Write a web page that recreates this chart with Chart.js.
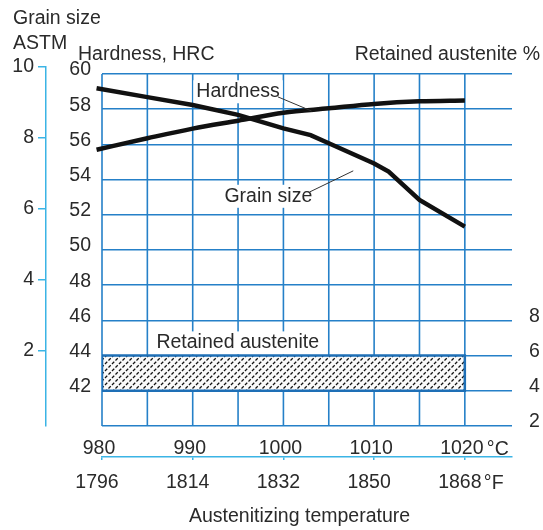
<!DOCTYPE html>
<html>
<head>
<meta charset="utf-8">
<script src="https://cdn.jsdelivr.net/npm/chart.js@4.4.1/dist/chart.umd.min.js"></script>
<style>
  html, body { margin: 0; padding: 0; background: #fff; }
  #wrap { width: 543px; height: 530px; position: relative; }
</style>
</head>
<body>
<div id="wrap"><canvas id="chart"></canvas></div>
<script>
// austenitizing temperature in °C
const hardnessTemp = [979.4, 985, 990, 995, 1000, 1005, 1010, 1015, 1020];
const hardnessHRC = [55.7, 56.35, 56.9, 57.35, 57.8, 58.05, 58.3, 58.45, 58.5];

const grainTemp = [979.4, 985, 990, 995, 1000, 1003, 1005, 1010, 1011.6, 1015, 1020];
const grainASTM = [9.4, 9.15, 8.93, 8.65, 8.27, 8.08, 7.85, 7.28, 7.05, 6.25, 5.5];

// retained austenite band, %
const austeniteTemp = [980, 1020];
const austeniteRange = [4, 6];

const tempTicksC = [980, 990, 1000, 1010, 1020];
const gridTempsC = [980, 985, 990, 995, 1000, 1005, 1010, 1015, 1020];
const hardnessTicks = [40, 42, 44, 46, 48, 50, 52, 54, 56, 58, 60];
const grainTicks = [2, 4, 6, 8, 10];
const austeniteTicks = [2, 4, 6, 8];

const BLUE = '#2580c8';
const LIGHT = '#3bb4e5';
const BOX = '#1e6fb6';
const INK = '#2a2a2a';
const FAMILY = '"Liberation Sans", Arial, sans-serif';
const SIZE = 19.5;
const FONT = SIZE + 'px ' + FAMILY;

Chart.defaults.font.family = FAMILY;
Chart.defaults.font.size = SIZE;
Chart.defaults.color = INK;

// text inside the plot, placed in data units (°C, HRC)
const plotLabels = [
  { text: 'Hardness', t: 990.4, h: 58.68, lead: [[999.4, 58.7], [1003.1, 57.9]] },
  { text: 'Grain size', t: 993.5, h: 52.74, lead: [[1002.9, 53.3], [1007.7, 54.5]] },
  { text: 'Retained austenite', t: 986.0, h: 44.41, lead: null }
];

function hatch() {
  const s = 7;
  const c = document.createElement('canvas');
  c.width = s; c.height = s;
  const g = c.getContext('2d');
  g.fillStyle = '#fafafa';
  g.fillRect(0, 0, s, s);
  g.strokeStyle = '#111';
  g.lineWidth = 1.25;
  const d = s * Math.SQRT2 / 2;
  g.setLineDash([d * 0.64, d * 0.36]);
  [-s, 0, s].forEach(o => {
    g.beginPath();
    g.moveTo(o - s, 2 * s);
    g.lineTo(o + 2 * s, -s);
    g.stroke();
  });
  return g.createPattern(c, 'repeat');
}

const decor = {
  id: 'decor',
  beforeDatasetsDraw(chart) {
    const { ctx, scales: { x, hrc } } = chart;
    ctx.save();
    const top = hrc.getPixelForValue(60), bottom = hrc.getPixelForValue(40);
    ctx.strokeStyle = BLUE;
    ctx.lineWidth = 1.6;
    gridTempsC.forEach(t => {
      const px = x.getPixelForValue(t);
      ctx.beginPath();
      ctx.moveTo(px, top);
      ctx.lineTo(px, bottom);
      ctx.stroke();
    });
    ctx.font = FONT;
    ctx.fillStyle = '#fff';
    plotLabels.forEach(l => {
      const lx = x.getPixelForValue(l.t), ly = hrc.getPixelForValue(l.h);
      const w = ctx.measureText(l.text).width;
      ctx.fillRect(lx - 3, ly - 17, w + 6, 23);
    });
    ctx.restore();
  },
  afterDatasetsDraw(chart) {
    const { ctx, scales: { x, hrc } } = chart;
    ctx.save();
    ctx.font = FONT;
    ctx.fillStyle = INK;
    ctx.textBaseline = 'alphabetic';
    ctx.textAlign = 'left';
    ctx.strokeStyle = '#333';
    ctx.lineWidth = 1;
    plotLabels.forEach(l => {
      ctx.fillText(l.text, x.getPixelForValue(l.t), hrc.getPixelForValue(l.h));
      if (l.lead) {
        ctx.beginPath();
        ctx.moveTo(x.getPixelForValue(l.lead[0][0]), hrc.getPixelForValue(l.lead[0][1]));
        ctx.lineTo(x.getPixelForValue(l.lead[1][0]), hrc.getPixelForValue(l.lead[1][1]));
        ctx.stroke();
      }
    });
    ctx.restore();
  },
  afterDraw(chart) {
    const { ctx, scales: { x } } = chart;
    ctx.save();
    ctx.font = FONT;
    ctx.fillStyle = INK;
    ctx.textBaseline = 'alphabetic';
    ctx.textAlign = 'left';
    ctx.fillText('Grain size', 13, 24);
    ctx.fillText('ASTM', 13, 48.5);
    ctx.fillText('Hardness, HRC', 78, 60);
    ctx.textAlign = 'right';
    ctx.fillText('Retained austenite %', 540, 60);
    ctx.textAlign = 'left';
    const end = x.getPixelForValue(1020);
    ctx.fillText('°C', end + 22, 455);
    ctx.fillText('°F', end + 19, 489);
    ctx.fillText('Austenitizing temperature', 189, 522);
    ctx.restore();
  }
};

const setTicks = list => scale => { scale.ticks = list.map(v => ({ value: v })); };

new Chart(document.getElementById('chart'), {
  type: 'line',
  data: {
    datasets: [
      {
        label: 'Hardness',
        data: hardnessTemp.map((t, i) => ({ x: t, y: hardnessHRC[i] })),
        xAxisID: 'x', yAxisID: 'hrc',
        borderColor: '#111', borderWidth: 4.5, pointRadius: 0,
        cubicInterpolationMode: 'monotone', clip: false, fill: false
      },
      {
        label: 'Grain size',
        data: grainTemp.map((t, i) => ({ x: t, y: grainASTM[i] })),
        xAxisID: 'x', yAxisID: 'astm',
        borderColor: '#111', borderWidth: 4.5, pointRadius: 0,
        tension: 0, clip: false, fill: false
      },
      {
        label: 'Retained austenite',
        data: [
          { x: austeniteTemp[0], y: austeniteRange[0] },
          { x: austeniteTemp[0], y: austeniteRange[1] },
          { x: austeniteTemp[1], y: austeniteRange[1] },
          { x: austeniteTemp[1], y: austeniteRange[0] },
          { x: austeniteTemp[0], y: austeniteRange[0] }
        ],
        xAxisID: 'x', yAxisID: 'ra',
        borderColor: BOX, borderWidth: 2.5, borderJoinStyle: 'miter',
        backgroundColor: hatch(), fill: 'shape', pointRadius: 0, tension: 0
      }
    ]
  },
  options: {
    responsive: true,
    maintainAspectRatio: false,
    animation: false,
    events: [],
    layout: { padding: { top: 67, left: 0, right: 0, bottom: 0 } },
    plugins: { legend: { display: false }, tooltip: { enabled: false } },
    scales: {
      x: {
        type: 'linear', axis: 'x', position: 'bottom', weight: 0,
        min: 980, max: 1025.2,
        grid: { display: false, drawTicks: false }, border: { display: false },
        afterBuildTicks: setTicks(tempTicksC),
        afterFit: s => { s.height = 31; },
        ticks: { padding: 11, labelOffset: -3, maxRotation: 0, autoSkip: false, callback: v => String(v) }
      },
      xF: {
        type: 'linear', axis: 'x', position: 'bottom', weight: 1,
        min: 980, max: 1025.2,
        grid: { drawOnChartArea: false, drawTicks: true, tickLength: 3, color: LIGHT, lineWidth: 1.5 },
        border: { display: true, color: LIGHT, width: 1.5 },
        afterBuildTicks: setTicks(tempTicksC),
        afterFit: s => { s.height = 73; },
        ticks: { padding: 11, labelOffset: -5, maxRotation: 0, autoSkip: false, callback: v => String(Math.round(v * 9 / 5 + 32)) }
      },
      hrc: {
        type: 'linear', axis: 'y', position: 'left', weight: 0,
        min: 40, max: 60.4,
        grid: { color: BLUE, lineWidth: 1.6, drawTicks: false },
        border: { display: false },
        afterBuildTicks: setTicks(hardnessTicks),
        afterFit: s => { s.width = 56; },
        ticks: { padding: 11, labelOffset: -4, autoSkip: false, callback: v => (v === 40 ? '' : String(v)) }
      },
      astm: {
        type: 'linear', axis: 'y', position: 'left', weight: 1,
        min: -0.124, max: 10,
        grid: { drawOnChartArea: false, drawTicks: true, tickLength: 8, color: LIGHT, lineWidth: 1.5 },
        border: { display: true, color: LIGHT, width: 1.5 },
        afterBuildTicks: setTicks(grainTicks),
        afterFit: s => { s.width = 46; },
        ticks: { padding: 4, autoSkip: false, callback: v => String(v) }
      },
      ra: {
        type: 'linear', axis: 'y', position: 'right',
        min: 2, max: 22.4,
        grid: { display: false, drawTicks: false }, border: { display: false },
        afterBuildTicks: setTicks(austeniteTicks),
        afterFit: s => { s.width = 31; },
        ticks: { padding: 17, labelOffset: -4, autoSkip: false, callback: v => String(v) }
      }
    }
  },
  plugins: [decor]
});
</script>
</body>
</html>
